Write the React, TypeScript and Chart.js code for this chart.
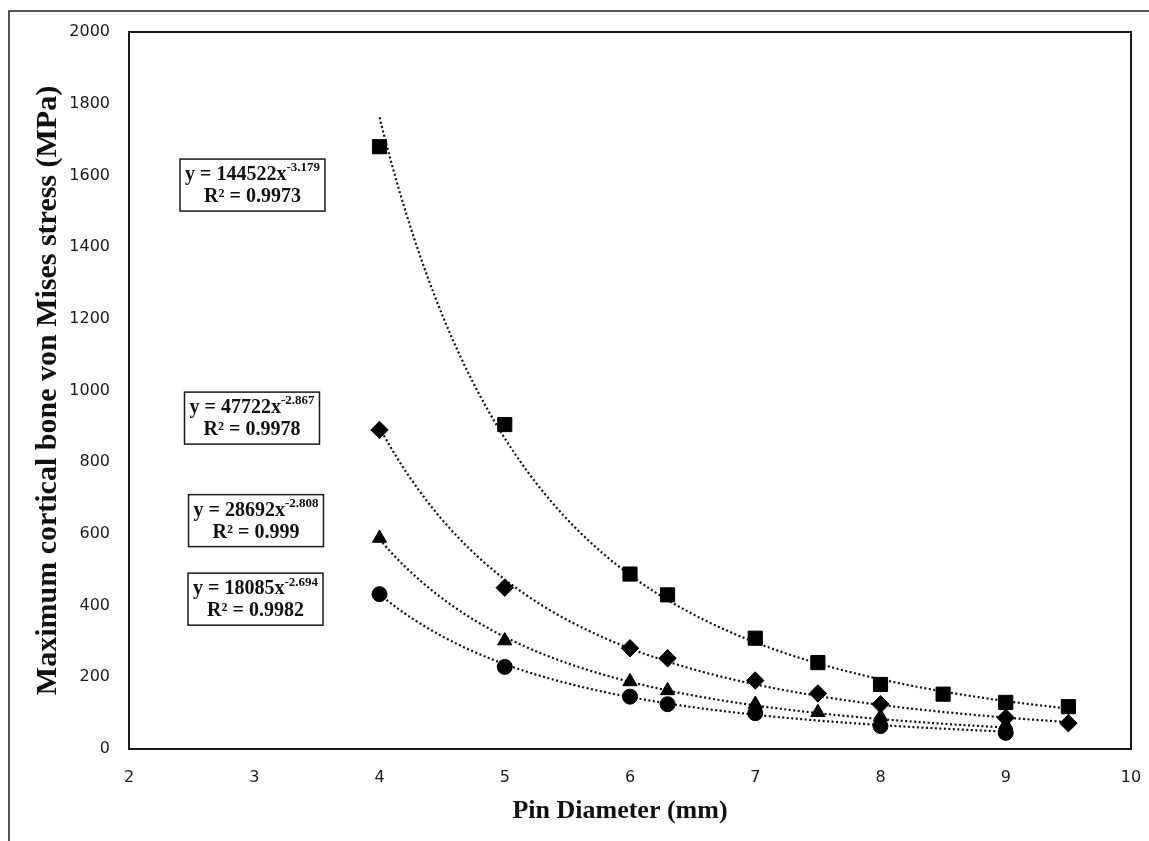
import React, { useEffect, useRef } from "react";
import { Chart, registerables } from "chart.js";

Chart.register(...registerables);

// ---- data ----
const squareX = [4, 5, 6, 6.3, 7, 7.5, 8, 8.5, 9, 9.5];
const squareY = [1680, 905, 488, 430, 309, 241, 180, 153, 130, 118];
const diamondX = [4, 5, 6, 6.3, 7, 7.5, 8, 9, 9.5];
const diamondY = [890, 450, 281, 253, 191, 155, 125, 87, 72];
const triangleX = [4, 5, 6, 6.3, 7, 7.5, 8, 9];
const triangleY = [588, 302, 188, 163, 125, 102, 90, 68];
const circleX = [4, 5, 6, 6.3, 7, 8, 9];
const circleY = [432, 229, 146, 125, 100, 64, 45];

// power trendlines y = a * x^b (coefficients printed on the chart)
const trendA = [144522, 47722, 28692, 18085];
const trendB = [-3.179, -2.867, -2.808, -2.694];
const trendXStart = [4, 4, 4, 4];
const trendXEnd = [9.5, 9.5, 9, 9];

const eqCoef = ["144522", "47722", "28692", "18085"];
const eqExp = ["-3.179", "-2.867", "-2.808", "-2.694"];
const eqR2 = ["0.9973", "0.9978", "0.999", "0.9982"];

const xTickValues = [2, 3, 4, 5, 6, 7, 8, 9, 10];
const yTickValues = [0, 200, 400, 600, 800, 1000, 1200, 1400, 1600, 1800, 2000];

const xTitle = "Pin Diameter (mm)";
const yTitle = "Maximum cortical bone von Mises stress (MPa)";

// ---- layout constants (label anchors in data units) ----
const eqAnchorX = [2.986, 2.982, 3.014, 3.01];
const eqAnchorY = [1573, 923, 637, 418];

const W = 1149;
const H = 841;

const toPts = (xs: number[], ys: number[]) => xs.map((x, i) => ({ x, y: ys[i] }));

const decorPlugin = {
  id: "decor",
  beforeDraw(chart: any) {
    const ctx = chart.ctx;
    ctx.save();
    ctx.fillStyle = "#ffffff";
    ctx.fillRect(0, 0, chart.width, chart.height);
    ctx.strokeStyle = "#1e1e1e";
    ctx.lineWidth = 1.5;
    ctx.beginPath();
    ctx.moveTo(9, chart.height);
    ctx.lineTo(9, 11);
    ctx.lineTo(chart.width, 11);
    ctx.stroke();
    ctx.restore();
  },
  beforeDatasetsDraw(chart: any) {
    const ctx = chart.ctx;
    const xs = chart.scales.x;
    const ys = chart.scales.y;
    ctx.save();
    ctx.strokeStyle = "#111111";
    ctx.lineWidth = 2.2;
    ctx.setLineDash([2, 2.5]);
    for (let i = 0; i < trendA.length; i++) {
      const n = 300;
      ctx.beginPath();
      for (let k = 0; k <= n; k++) {
        const xv = trendXStart[i] + ((trendXEnd[i] - trendXStart[i]) * k) / n;
        const yv = trendA[i] * Math.pow(xv, trendB[i]);
        const px = xs.getPixelForValue(xv);
        const py = ys.getPixelForValue(yv);
        if (k === 0) ctx.moveTo(px, py);
        else ctx.lineTo(px, py);
      }
      ctx.stroke();
    }
    ctx.restore();
  },
  afterDraw(chart: any) {
    const ctx = chart.ctx;
    const a = chart.chartArea;
    const xs = chart.scales.x;
    const ys = chart.scales.y;
    ctx.save();
    // plot frame
    ctx.strokeStyle = "#1a1a1a";
    ctx.lineWidth = 2;
    ctx.strokeRect(a.left, a.top, a.right - a.left, a.bottom - a.top);

    // axis titles
    ctx.fillStyle = "#111111";
    ctx.font = 'bold 26px "Liberation Serif"';
    ctx.textAlign = "center";
    ctx.textBaseline = "middle";
    ctx.fillText(xTitle, (a.left + a.right) / 2 - 10, 811);

    ctx.save();
    ctx.translate(48, (a.top + a.bottom) / 2);
    ctx.rotate(-Math.PI / 2);
    ctx.font = 'bold 30px "Liberation Serif"';
    ctx.fillText(yTitle, 0, 0);
    ctx.restore();

    // equation boxes
    const fMain = 'bold 20px "Liberation Serif"';
    const fSup = 'bold 13px "Liberation Serif"';
    for (let i = 0; i < eqCoef.length; i++) {
      const cx = xs.getPixelForValue(eqAnchorX[i]);
      const cy = ys.getPixelForValue(eqAnchorY[i]);
      const main = `y = ${eqCoef[i]}x`;
      ctx.font = fMain;
      const wMain = ctx.measureText(main).width;
      ctx.font = fSup;
      const wSup = ctx.measureText(eqExp[i]).width;
      const w1 = wMain + wSup;
      const bw = w1 + 10;
      const bh = 52;
      ctx.fillStyle = "#ffffff";
      ctx.fillRect(cx - bw / 2, cy - bh / 2, bw, bh);
      ctx.strokeStyle = "#1a1a1a";
      ctx.lineWidth = 1.5;
      ctx.strokeRect(cx - bw / 2, cy - bh / 2, bw, bh);

      ctx.fillStyle = "#111111";
      ctx.textAlign = "left";
      ctx.textBaseline = "middle";
      ctx.font = fMain;
      const x0 = cx - w1 / 2;
      ctx.fillText(main, x0, cy - 10);
      ctx.font = fSup;
      ctx.fillText(eqExp[i], x0 + wMain, cy - 17);
      ctx.font = fMain;
      ctx.textAlign = "center";
      ctx.fillText(`R² = ${eqR2[i]}`, cx, cy + 12);
    }
    ctx.restore();
  },
};

export default function App() {
  const ref = useRef<HTMLCanvasElement | null>(null);

  useEffect(() => {
    if (!ref.current) return;
    const common = {
      showLine: false,
      backgroundColor: "#000000",
      borderColor: "#000000",
      borderWidth: 1,
    };
    const chart = new Chart(ref.current, {
      type: "scatter",
      data: {
        datasets: [
          { ...common, label: "square", data: toPts(squareX, squareY), pointStyle: "rect", pointRadius: 10 },
          { ...common, label: "diamond", data: toPts(diamondX, diamondY), pointStyle: "rectRot", pointRadius: 8.7 },
          { ...common, label: "triangle", data: toPts(triangleX, triangleY), pointStyle: "triangle", pointRadius: 8.2 },
          { ...common, label: "circle", data: toPts(circleX, circleY), pointStyle: "circle", pointRadius: 7.5 },
        ],
      },
      options: {
        responsive: false,
        animation: false,
        layout: { padding: { left: 0, right: 18, top: 32, bottom: 0 } },
        plugins: {
          legend: { display: false },
          tooltip: { enabled: false },
          title: { display: false },
        },
        scales: {
          x: {
            type: "linear",
            min: 2,
            max: 10,
            afterFit: (s: any) => {
              s.height = 92;
              s.paddingLeft = 0;
              s.paddingRight = 0;
            },
            afterBuildTicks: (s: any) => {
              s.ticks = xTickValues.map((v) => ({ value: v }));
            },
            grid: { display: false, drawTicks: false },
            border: { display: false },
            ticks: {
              padding: 19,
              color: "#1a1a1a",
              font: { family: "DejaVu Sans", size: 16 },
              callback: (v: any) => String(v),
            },
          },
          y: {
            type: "linear",
            min: 0,
            max: 2000,
            afterFit: (s: any) => {
              s.width = 129;
              s.paddingTop = 0;
              s.paddingBottom = 0;
            },
            afterBuildTicks: (s: any) => {
              s.ticks = yTickValues.map((v) => ({ value: v }));
            },
            grid: { display: false, drawTicks: false },
            border: { display: false },
            ticks: {
              padding: 19,
              color: "#1a1a1a",
              font: { family: "DejaVu Sans", size: 16 },
              callback: (v: any) => String(v),
            },
          },
        },
      },
      plugins: [decorPlugin],
    } as any);
    return () => chart.destroy();
  }, []);

  return (
    <div style={{ position: "fixed", left: 0, top: 0, width: W, height: H, background: "#fff" }}>
      <canvas ref={ref} width={W} height={H} style={{ display: "block" }} />
    </div>
  );
}
